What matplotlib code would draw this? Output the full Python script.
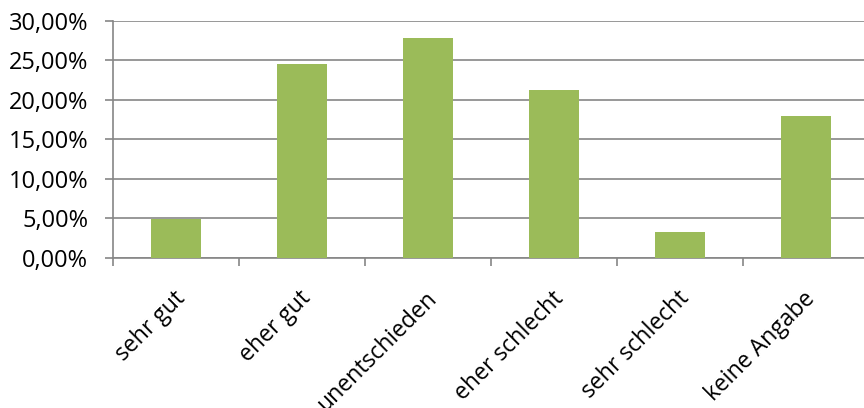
import matplotlib
matplotlib.use("Agg")
import matplotlib.pyplot as plt
from matplotlib.ticker import FuncFormatter

categories = ["sehr gut", "eher gut", "unentschieden", "eher schlecht", "sehr schlecht", "keine Angabe"]
shares = [4.9, 24.6, 27.85, 21.3, 3.2, 18.0]
y_ticks = [0, 5, 10, 15, 20, 25, 30]

plt.rcParams['font.family'] = ['Open Sans', 'DejaVu Sans']

fig = plt.figure(figsize=(8.64, 4.08), dpi=100)
# plot area runs a little past the right edge, like the source image
ax = fig.add_axes([113 / 864, 1 - 257.5 / 408, 756 / 864, 236.5 / 408])

x = list(range(len(categories)))
ax.bar(x, shares, width=0.4, color="#9BBB59", zorder=3)

ax.set_xlim(-0.5, len(categories) - 0.5)
ax.set_ylim(0, 30)
ax.set_yticks(y_ticks)
ax.yaxis.set_major_formatter(FuncFormatter(lambda v, p: f"{v:.2f}%".replace(".", ",")))
ax.grid(axis="y", color="#868686", linewidth=1.2, zorder=0)

# category separators as tick marks
ax.set_xticks([i - 0.5 for i in x], minor=False)
ax.set_xticklabels([])
ax.tick_params(axis="x", length=6, width=1.2, color="#868686", direction="out")
ax.tick_params(axis="y", length=6, width=1.2, color="#868686", labelsize=17, pad=12)

for i, lab in enumerate(categories):
    ax.annotate(lab, xy=(i, 0), xycoords="data", xytext=(-2, -21), textcoords="offset points",
                rotation=45, ha="right", va="top", rotation_mode="anchor", fontsize=16.5)

for side in ["top", "right"]:
    ax.spines[side].set_visible(False)
for side in ["left", "bottom"]:
    ax.spines[side].set_color("#868686")
    ax.spines[side].set_linewidth(1.2)

fig.savefig("out.png", dpi=100)
